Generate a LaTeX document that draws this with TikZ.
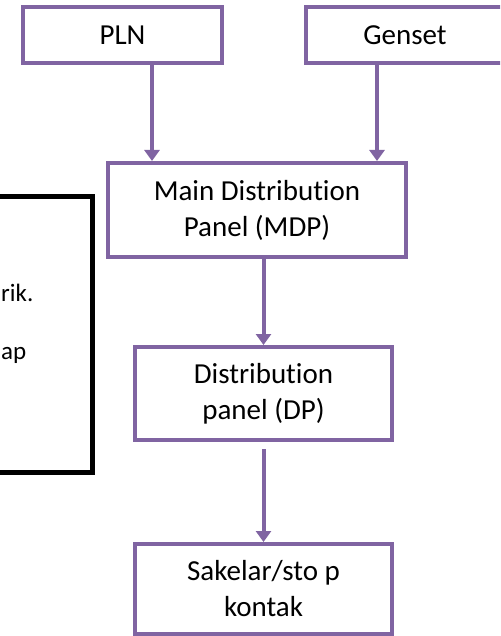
\documentclass[tikz,border=0pt]{standalone}
\usepackage{fontspec}
\setmainfont[Ligatures=NoCommon]{Carlito}
\usetikzlibrary{arrows.meta}
\definecolor{panelpurple}{HTML}{8064A2}
\tikzset{
    panel/.style={rectangle, draw=panelpurple, line width=4pt, align=center, inner sep=0pt, font=\fontsize{29}{36}\selectfont},
    flow/.style={draw=panelpurple, line width=4pt, -{Triangle[width=15pt,length=11pt]}}
}
\begin{document}
\begin{tikzpicture}[x=1pt, y=-1pt]
        \useasboundingbox (0,0) rectangle (500,636);
        \clip (0,0) rectangle (500,636);

        % Nodes
        \node(pln) [panel, minimum width=199pt, minimum height=56pt] at (122.5,35) {PLN};
        \node(genset) [panel, minimum width=199pt, minimum height=56pt] at (405,35.5) {Genset};
        \node(mdp) [panel, minimum width=298pt, minimum height=94pt] at (257,210) {Main Distribution\\Panel (MDP)};
        \node(dp) [panel, minimum width=257pt, minimum height=93pt] at (263.5,393.5) {Distribution\\panel (DP)};
        \node(sk) [panel, minimum width=257pt, minimum height=90pt] at (263.5,589) {Sakelar/sto p\\kontak};

        % Note box (cut off at the left edge)
        \node(note) [rectangle, draw=black, line width=5pt, minimum width=250pt, minimum height=275pt] at (-33,334.5) {};
        \node(line1) [anchor=west, inner sep=0pt, font=\fontsize{25}{30}\selectfont] at (1,293) {rik.};
        \node(line2) [anchor=west, inner sep=0pt, font=\fontsize{25}{30}\selectfont] at (1,355) {ap};

        % Edges
        \draw[flow] ([xshift=29.5pt]pln.south) -- ([xshift=29.5pt]pln.south |- mdp.north);
        \draw[flow] ([xshift=-28pt]genset.south) -- ([xshift=-28pt]genset.south |- mdp.north);
        \draw[flow] (mdp.south -| dp.north) -- (dp.north);
        \draw[flow, shorten <=7pt] (dp.south) -- (sk.north);
    \end{tikzpicture}
\end{document}
